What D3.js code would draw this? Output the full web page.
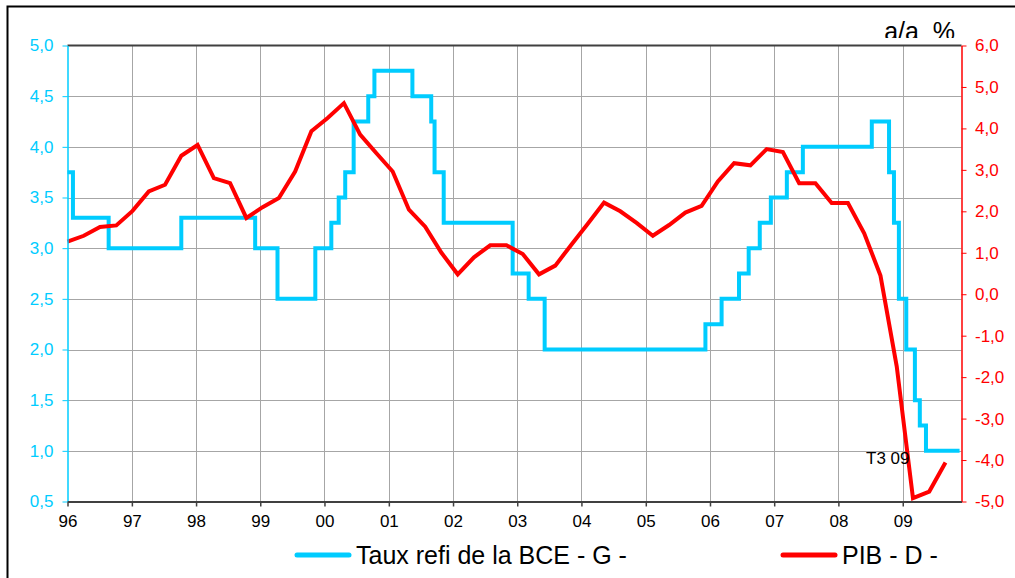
<!DOCTYPE html>
<html>
<head>
<meta charset="utf-8">
<script src="https://cdn.jsdelivr.net/npm/d3@7"></script>
<style>
  html, body { margin: 0; padding: 0; background: #fff; }
  svg { display: block; font-family: "Liberation Sans", Arial, sans-serif; }
</style>
</head>
<body>
<svg id="chart" width="1015" height="578"></svg>
<script>
// ---- Data ----
// ECB refinancing rate (left axis), change dates and levels
const refiDates = ["1996-01-01","1996-02-01","1996-08-22","1997-10-09","1998-12-03","1999-04-09","1999-11-10",
  "2000-02-09","2000-03-22","2000-04-28","2000-06-15","2000-09-06","2000-10-11","2001-05-15","2001-08-30",
  "2001-09-18","2001-11-09","2002-12-06","2003-03-07","2003-06-06","2005-12-06","2006-03-08","2006-06-15",
  "2006-08-09","2006-10-11","2006-12-13","2007-03-14","2007-06-13","2008-07-09","2008-10-15","2008-11-12",
  "2008-12-10","2009-01-21","2009-03-11","2009-04-08","2009-05-13","2009-11-20"];
const refiValues = [3.75,3.30,3.00,3.30,3.00,2.50,3.00,
  3.25,3.50,3.75,4.25,4.50,4.75,4.50,4.25,
  3.75,3.25,2.75,2.50,2.00,2.25,2.50,2.75,
  3.00,3.25,3.50,3.75,4.00,4.25,3.75,3.25,
  2.50,2.00,1.50,1.25,1.00,1.00];

// GDP y/y % (right axis), quarterly T1 96 .. T3 09
const pibYears = d3.range(1996, 2010);
const pibQuarters = ["T1","T2","T3","T4"];
const pibValues = [1.27,1.41,1.62,1.66, 2.01,2.48,2.64,3.34, 3.60,2.80,2.68,1.84, 2.10,2.32,2.96,3.93,
  4.25,4.61,3.85,3.40, 2.96,2.04,1.63,1.00, 0.48,0.89,1.18,1.18, 0.97,0.48,0.69,1.20,
  1.70,2.21,2.00,1.72, 1.41,1.67,1.97,2.13, 2.72,3.16,3.11,3.50, 3.43,2.68,2.68,2.20,
  2.20,1.47,0.45,-1.74, -4.92,-4.76,-4.06];

const xTickYears = d3.range(1996, 2010);
const leftTicks = d3.range(0.5, 5.01, 0.5);
const rightTicks = d3.range(-5, 6.01, 1);

const legendLabels = ["Taux refi de la BCE - G -", "PIB - D -"];
const annotationText = "T3 09";
const unitText = "a/a  %";

// ---- Layout ----
const cyan = "#00CCFF", red = "#FF0000", gridC = "#a6a6a6", axisDark = "#404040";
const m = {left: 67.5, right: 961.5, top: 45.5, bottom: 501.5};

const svg = d3.select("#chart");
const parse = d3.timeParse("%Y-%m-%d");

const x = d3.scaleTime().domain([new Date(1996,0,1), new Date(2009,11,1)]).range([m.left, m.right]);
const yL = d3.scaleLinear().domain([0.5, 5]).range([m.bottom, m.top]);
const yR = d3.scaleLinear().domain([-5, 6]).range([m.bottom, m.top]);

const quarterLabels = [];
pibYears.forEach(y => pibQuarters.forEach(q => quarterLabels.push(q + " " + String(y).slice(2))));
const pibLabels = quarterLabels.slice(0, pibValues.length);
const xq = d3.scalePoint().domain(pibLabels).range([x(new Date(1996,0,1)), x(new Date(2009,8,1))]);

const fmt = d => d3.format(".1f")(d).replace(".", ",").replace("\u2212", "-");

// outer frame
svg.append("rect").attr("x", 7.5).attr("y", 6.5).attr("width", 1040).attr("height", 620)
  .attr("fill", "none").attr("stroke", "#000").attr("stroke-width", 2);

// unit label (clipped)
svg.append("clipPath").attr("id", "unitclip").append("rect")
  .attr("x", 850).attr("y", 0).attr("width", 160).attr("height", 38);
svg.append("text").attr("clip-path", "url(#unitclip)")
  .attr("x", 955).attr("y", 40).attr("text-anchor", "end")
  .attr("font-size", 25).attr("fill", "#000").style("white-space", "pre").text(unitText);

// gridlines
const grid = svg.append("g");
grid.selectAll("line.h").data(leftTicks.filter(v => v > 0.5 && v < 5)).enter().append("line")
  .attr("x1", m.left).attr("x2", m.right)
  .attr("y1", d => Math.round(yL(d)) + 0.5).attr("y2", d => Math.round(yL(d)) + 0.5)
  .attr("stroke", gridC).attr("stroke-width", 1);
grid.selectAll("line.v").data(xTickYears.slice(1)).enter().append("line")
  .attr("x1", d => Math.round(x(new Date(d,0,1))) + 0.5).attr("x2", d => Math.round(x(new Date(d,0,1))) + 0.5)
  .attr("y1", m.top).attr("y2", m.bottom)
  .attr("stroke", gridC).attr("stroke-width", 1);

// top border
svg.append("line").attr("x1", m.left).attr("x2", m.right).attr("y1", m.top).attr("y2", m.top)
  .attr("stroke", axisDark).attr("stroke-width", 2);

// series
const refiData = refiDates.map((d, i) => ({date: parse(d), v: refiValues[i]}));
const refiLine = d3.line().x(d => x(d.date)).y(d => yL(d.v)).curve(d3.curveStepAfter);
svg.append("path").datum(refiData).attr("d", refiLine)
  .attr("fill", "none").attr("stroke", cyan).attr("stroke-width", 4).attr("stroke-linejoin", "miter");

const pibData = pibValues.map((v, i) => ({q: pibLabels[i], v}));
const pibLine = d3.line().x(d => xq(d.q)).y(d => yR(d.v));
svg.append("path").datum(pibData).attr("d", pibLine)
  .attr("fill", "none").attr("stroke", red).attr("stroke-width", 4).attr("stroke-linejoin", "miter");

// axes
const axL = svg.append("g").attr("transform", `translate(${m.left},0)`)
  .call(d3.axisLeft(yL).tickValues(leftTicks).tickFormat(fmt).tickSize(5).tickSizeOuter(0).tickPadding(9));
axL.select(".domain").attr("stroke", cyan).attr("stroke-width", 1.5);
axL.selectAll(".tick line").attr("stroke", cyan);
axL.selectAll("text").attr("fill", cyan).attr("font-size", 17).attr("font-family", "Liberation Sans, Arial, sans-serif");

const axR = svg.append("g").attr("transform", `translate(${m.right},0)`)
  .call(d3.axisRight(yR).tickValues(rightTicks).tickFormat(fmt).tickSize(5).tickSizeOuter(0).tickPadding(8.5));
axR.select(".domain").attr("stroke", red).attr("stroke-width", 1.5);
axR.selectAll(".tick line").attr("stroke", red);
axR.selectAll("text").attr("fill", red).attr("font-size", 17).attr("font-family", "Liberation Sans, Arial, sans-serif");

const axB = svg.append("g").attr("transform", `translate(0,${m.bottom})`)
  .call(d3.axisBottom(x).tickValues(xTickYears.map(y => new Date(y,0,1))).tickFormat(d3.timeFormat("%y")).tickSize(5).tickSizeOuter(0).tickPadding(8));
axB.select(".domain").attr("stroke", axisDark).attr("stroke-width", 2);
axB.selectAll(".tick line").attr("stroke", axisDark).attr("stroke-width", 1.5);
axB.selectAll("text").attr("fill", "#000").attr("font-size", 17).attr("font-family", "Liberation Sans, Arial, sans-serif");

// annotation
const lastQ = pibData[pibData.length - 1];
svg.append("text").attr("x", xq(lastQ.q) - 36).attr("y", yR(lastQ.v) + 1)
  .attr("text-anchor", "end").attr("font-size", 17).attr("fill", "#000").text(annotationText);

// legend
const legend = svg.append("g");
const legItems = [{label: legendLabels[0], color: cyan, x: 297}, {label: legendLabels[1], color: red, x: 783}];
legItems.forEach(it => {
  legend.append("line").attr("x1", it.x).attr("x2", it.x + 52).attr("y1", 555).attr("y2", 555)
    .attr("stroke", it.color).attr("stroke-width", 5).attr("stroke-linecap", "round");
  legend.append("text").attr("x", it.x + 59).attr("y", 563.5).attr("font-size", 25).attr("fill", "#000").text(it.label);
});
</script>
</body>
</html>
